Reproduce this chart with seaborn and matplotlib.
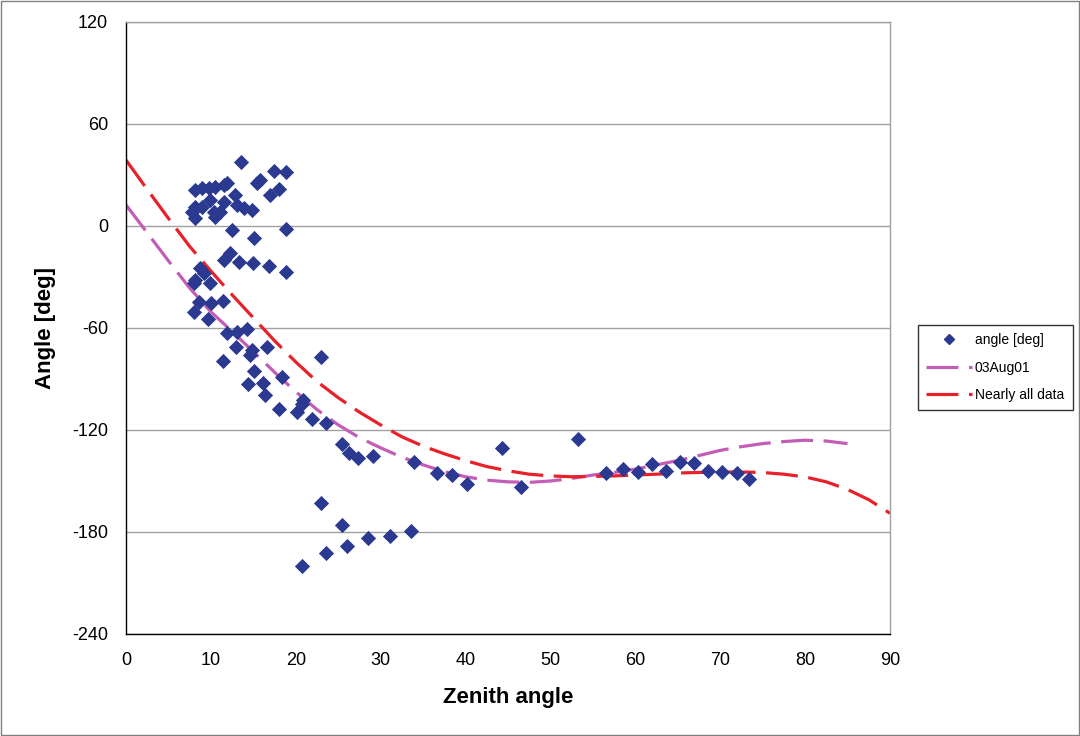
import matplotlib
matplotlib.use("Agg")
import matplotlib.pyplot as plt
import seaborn as sns
import pandas as pd
from matplotlib.lines import Line2D
from matplotlib.patches import Rectangle

# ---- data ----
zenith = [8.13, 8.95, 9.78, 10.48, 11.54, 11.90, 15.79, 15.43, 12.84, 11.54,
          9.90, 8.13, 7.77, 8.13, 8.95, 10.37, 11.07, 10.48, 13.08, 13.90,
          14.84, 12.49, 15.08, 13.55, 17.43, 18.85, 18.02, 16.96, 18.85,
          12.25, 11.54, 13.31, 14.96, 16.85, 18.85, 8.72, 9.19, 8.13, 8.01,
          9.90, 8.60, 10.01, 11.43, 8.01, 9.66, 11.90, 13.08, 14.25, 12.96,
          14.84, 14.61, 16.61, 11.43, 22.97, 15.08, 18.38, 14.37, 16.14,
          16.37, 20.85, 20.73, 18.02, 20.14, 21.91, 23.56, 25.44, 26.27,
          27.33, 29.10, 33.93, 36.64, 38.40, 40.17, 44.29, 46.53, 53.24,
          56.54, 58.55, 60.31, 61.96, 63.61, 65.26, 66.91, 68.56, 70.21,
          71.98, 73.39,
          22.97, 25.44, 28.51, 31.10, 33.57, 26.03, 23.56, 20.73]
angle = [21.2, 22.4, 22.4, 22.9, 24.1, 25.3, 27.1, 25.3, 18.2, 14.1,
         15.3, 11.2, 8.2, 4.7, 11.2, 8.2, 8.2, 5.3, 12.4, 10.6,
         9.4, -2.4, -7.1, 37.6, 32.4, 31.8, 21.8, 18.2, -1.8,
         -15.9, -20.0, -21.2, -21.8, -23.5, -27.1, -24.7, -27.6, -31.8, -33.5,
         -33.5, -44.7, -45.3, -44.1, -50.6, -54.7, -62.9, -62.4, -60.6, -71.2,
         -72.9, -75.9, -71.2, -79.4, -77.1, -85.3, -88.8, -92.9, -92.4,
         -99.4, -102.4, -104.7, -107.6, -109.4, -113.5, -115.9, -128.2, -133.5,
         -136.5, -135.3, -138.8, -145.3, -146.5, -151.8, -130.6, -153.5, -125.3,
         -145.3, -142.9, -144.7, -140.0, -144.1, -138.8, -139.4, -144.1, -144.7,
         -145.3, -148.8,
         -162.9, -175.9, -183.5, -182.4, -179.4, -188.2, -192.4, -200.0]

# trend line "03Aug01" (read at x steps of 2.5)
aug_x = [0, 2.5, 5, 7.5, 10, 12.5, 15, 17.5, 20, 22.5, 25, 27.5, 30, 32.5,
         35, 37.5, 40, 42.5, 45, 47.5, 50, 52.5, 55, 57.5, 60, 62.5, 65,
         67.5, 70, 72.5, 75, 77.5, 80, 82.5, 85]
aug_y = [12.4, -4, -20.5, -36.5, -50.5, -62, -74, -86, -97.5, -108, -117,
         -124.5, -130.5, -136, -140.5, -144.5, -147.5, -149.5, -150.5, -150.8,
         -150, -148.5, -146.5, -145, -143, -140.5, -138, -135, -132, -129.8,
         -128, -126.8, -126, -126.5, -128]

# trend line "Nearly all data"
all_x = [0, 2.5, 5, 7.5, 10, 12.5, 15, 17.5, 20, 22.5, 25, 27.5, 30, 32.5,
         35, 37.5, 40, 42.5, 45, 47.5, 50, 52.5, 55, 57.5, 60, 62.5, 65,
         67.5, 70, 72.5, 75, 77.5, 80, 82.5, 85, 87.5, 90]
all_y = [38.8, 21.5, 4.5, -12, -26.5, -40.5, -54, -67.5, -80, -91.5, -101,
         -109.5, -117, -124, -129.5, -134, -138, -141.5, -144, -146, -147,
         -147.5, -147.3, -147, -146.5, -146, -145.3, -145, -144.7, -144.7,
         -145, -146, -147.6, -150.5, -155, -161, -169]

x_ticks = [0, 10, 20, 30, 40, 50, 60, 70, 80, 90]
y_ticks = [-240, -180, -120, -60, 0, 60, 120]

# ---- styling ----
sns.set_theme(style="white")
plt.rcParams["font.family"] = ["Liberation Sans", "DejaVu Sans"]
plt.rcParams["text.color"] = "black"
plt.rcParams["axes.labelcolor"] = "black"

W, H = 1080, 736
fig = plt.figure(figsize=(W / 100, H / 100), dpi=100)
ax = fig.add_axes([126 / W, 1 - 634 / H, (890 - 126) / W, (634 - 22) / H])

navy = "#2B3990"
magenta = "#C45DB5"
red = "#E8202A"
dash = (10, 3.3)

sns.lineplot(x=aug_x, y=aug_y, ax=ax, color=magenta, linewidth=2.3,
             sort=False, estimator=None, zorder=2)
sns.lineplot(x=all_x, y=all_y, ax=ax, color=red, linewidth=2.3,
             sort=False, estimator=None, zorder=2)
for ln in ax.get_lines():
    ln.set_dashes(dash)

sns.scatterplot(x=zenith, y=angle, ax=ax, marker="D", s=60, color=navy,
                edgecolor=navy, linewidth=0, zorder=3)

ax.set_xlim(0, 90)
ax.set_ylim(-240, 120)
ax.set_xticks(x_ticks)
ax.set_yticks(y_ticks)
ax.set_xticklabels([str(v) for v in x_ticks])
ax.set_yticklabels([str(v) for v in y_ticks])
ax.tick_params(axis="both", labelsize=13, colors="black", direction="out",
               length=5, width=1, pad=8)
ax.grid(axis="y", color="#A0A0A0", linewidth=1)
ax.grid(axis="x", visible=False)
ax.set_axisbelow(True)
for side in ["left", "bottom"]:
    ax.spines[side].set_color("black")
    ax.spines[side].set_linewidth(1)
for side in ["top", "right"]:
    ax.spines[side].set_color("#A0A0A0")
    ax.spines[side].set_linewidth(1)

ax.set_xlabel("Zenith angle", fontsize=16, fontweight="bold", color="black")
ax.set_ylabel("Angle [deg]", fontsize=16, fontweight="bold", color="black")
ax.xaxis.set_label_coords(0.5, -(697 - 634) / 612)
ax.xaxis.label.set_va("center")
ax.yaxis.set_label_coords(-(126 - 46) / 764, 0.5)
ax.yaxis.label.set_va("center")

handles = [
    Line2D([], [], marker="D", linestyle="none", color=navy, markersize=5),
    Line2D([], [], color=magenta, linewidth=2.3, dashes=dash),
    Line2D([], [], color=red, linewidth=2.3, dashes=dash),
]
labels = ["angle [deg]", "03Aug01", "Nearly all data"]
leg = fig.legend(handles, labels, loc="upper left",
                 bbox_to_anchor=(918 / W, 1 - 325 / H), fontsize=10,
                 frameon=True, fancybox=False, handlelength=3.3,
                 borderaxespad=0, labelspacing=0.95, borderpad=0.6,
                 handletextpad=0.2)
leg.get_frame().set_edgecolor("black")
leg.get_frame().set_linewidth(1)
for t in leg.get_texts():
    t.set_color("black")

fig.patches.append(Rectangle((0.0005, 0.0007), 0.999, 0.9986,
                             transform=fig.transFigure, fill=False,
                             edgecolor="#808080", linewidth=1))

fig.savefig("out.png", dpi=100)
